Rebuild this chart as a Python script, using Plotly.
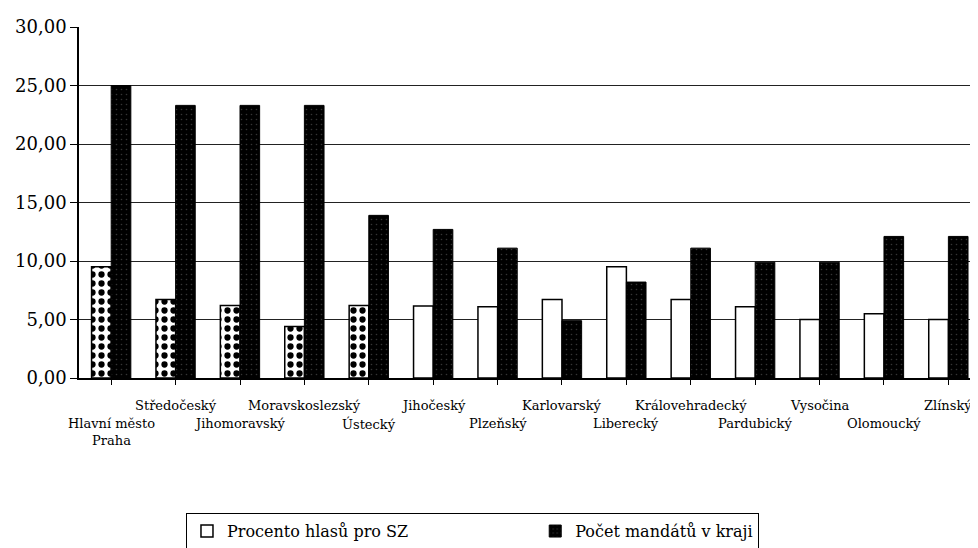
import plotly.graph_objects as go

regions = ["Hlavní město<br>Praha", "Středočeský", "Jihomoravský", "Moravskoslezský",
           "Ústecký", "Jihočeský", "Plzeňský", "Karlovarský", "Liberecký",
           "Královehradecký", "Pardubický", "Vysočina", "Olomoucký", "Zlínský"]
pct_votes = [9.5, 6.7, 6.2, 4.4, 6.2, 6.15, 6.1, 6.7, 9.5, 6.7, 6.1, 5.0, 5.5, 5.0]
mandates = [25.0, 23.3, 23.3, 23.3, 13.9, 12.7, 11.1, 4.9, 8.2, 11.1, 9.9, 9.9, 12.1, 12.1]
series_names = ["Procento hlasů pro SZ", "Počet mandátů v kraji"]
dotted_count = 5
y_ticks = [0, 5, 10, 15, 20, 25, 30]

idx = list(range(len(regions)))
FONT = "DejaVu Serif"
PAD = "\u00a0" * 24

fig = go.Figure()
fig.add_trace(go.Bar(
    x=idx[:dotted_count], y=pct_votes[:dotted_count], offsetgroup="pct",
    showlegend=False, name=series_names[0],
    marker=dict(color="white", line=dict(color="black", width=1.5),
                pattern=dict(shape=".", fgcolor="black", bgcolor="white",
                             size=9, solidity=0.38, fgopacity=1)),
))
fig.add_trace(go.Bar(
    x=idx[dotted_count:], y=pct_votes[dotted_count:], offsetgroup="pct",
    name=series_names[0] + PAD,
    marker=dict(color="white", line=dict(color="black", width=1.5)),
))
fig.add_trace(go.Bar(
    x=idx, y=mandates, offsetgroup="mand", name=series_names[1],
    marker=dict(color="black", line=dict(color="black", width=1),
                pattern=dict(shape=".", fgcolor="#6a6a6a", bgcolor="black",
                             size=5, solidity=0.08)),
))

annotations = []
for i, r in enumerate(regions):
    upper = (i % 2 == 1)
    annotations.append(dict(
        x=i, xref="x", y=-0.052 if upper else -0.103, yref="paper",
        text=r, showarrow=False, yanchor="top", xanchor="center",
        font=dict(family=FONT, size=13, color="black"), align="center",
    ))

fig.update_layout(
    width=970, height=540,
    margin=dict(l=71, r=0, t=19, b=170, autoexpand=False),
    paper_bgcolor="white", plot_bgcolor="white",
    barmode="group", bargap=0.39, bargroupgap=0.0,
    separators=", ",
    font=dict(family=FONT, color="black"),
    annotations=annotations,
    legend=dict(
        orientation="h", x=0.119, xanchor="left", y=-0.385, yanchor="top",
        bordercolor="black", borderwidth=1, bgcolor="white",
        font=dict(family=FONT, size=16, color="black"),
        traceorder="normal",
    ),
    xaxis=dict(
        range=[-0.5, 13.46], tickmode="array", tickvals=idx,
        showticklabels=False, tickson="boundaries", ticks="outside",
        ticklen=5, tickcolor="black", showline=True, linecolor="black",
        linewidth=1.5, showgrid=False, zeroline=False, fixedrange=True,
        automargin=False,
    ),
    yaxis=dict(
        range=[0, 30], tickmode="array", tickvals=y_ticks,
        tickformat=".2f", ticks="outside", ticklen=7, tickcolor="black",
        tickfont=dict(family=FONT, size=18, color="black"),
        showline=True, linecolor="black", linewidth=1.5,
        showgrid=True, gridcolor="#222", gridwidth=1, zeroline=False,
        automargin=False,
    ),
)

fig.write_html("out.html")
